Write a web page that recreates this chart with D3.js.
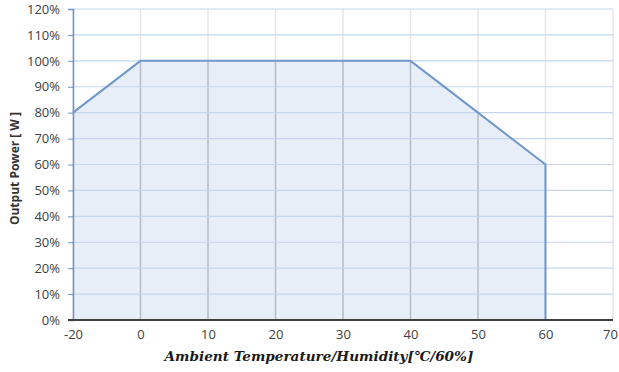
<!DOCTYPE html>
<html>
<head>
<meta charset="utf-8">
<script src="https://cdn.jsdelivr.net/npm/d3@7"></script>
<style>
  body { margin: 0; background: #fff; }
  svg { display: block; }
</style>
</head>
<body>
<svg id="chart"></svg>
<script>
// categories on the x axis (Excel category axis, so -20 -> 0 is one step)
let categories = [-20, 0, 10, 20, 30, 40, 50, 60, 70];
// derating curve, percent of output power
let curveTemps = [-20, 0, 10, 20, 30, 40, 50, 60];
let curvePower = [80, 100, 100, 100, 100, 100, 80, 60];
let yTicks = [0, 10, 20, 30, 40, 50, 60, 70, 80, 90, 100, 110, 120];

let w = 619, h = 372;
let margin = {left: 73, right: 6, top: 9, bottom: 52};

let svg = d3.select("#chart").attr("width", w).attr("height", h);

let x = d3.scalePoint()
    .domain(categories)
    .range([margin.left, w - margin.right]);

let y = d3.scaleLinear()
    .domain([0, 120])
    .range([h - margin.bottom, margin.top]);

let points = curveTemps.map((t, i) => ({t: t, p: curvePower[i]}));
let lastT = curveTemps[curveTemps.length - 1];

// light vertical grid
svg.append("g")
    .selectAll("line")
    .data(categories)
    .enter()
    .append("line")
    .attr("x1", d => x(d)).attr("x2", d => x(d))
    .attr("y1", y(120)).attr("y2", y(0))
    .attr("stroke", "#e6e6e6")
    .attr("stroke-width", 1.5);

// area under curve
let area = d3.area()
    .x(d => x(d.t))
    .y0(y(0))
    .y1(d => y(d.p));

svg.append("clipPath").attr("id", "areaClip")
    .append("path").attr("d", area(points));

svg.append("path")
    .attr("d", area(points))
    .attr("fill", "#e8eef7");

// darker vertical grid inside the filled area
svg.append("g")
    .attr("clip-path", "url(#areaClip)")
    .selectAll("line")
    .data(categories)
    .enter()
    .append("line")
    .attr("x1", d => x(d)).attr("x2", d => x(d))
    .attr("y1", y(120)).attr("y2", y(0))
    .attr("stroke", "#b4bcc6")
    .attr("stroke-width", 1.5);

// horizontal grid
svg.append("g")
    .selectAll("line")
    .data(yTicks)
    .enter()
    .append("line")
    .attr("x1", margin.left).attr("x2", w - margin.right)
    .attr("y1", d => y(d)).attr("y2", d => y(d))
    .attr("stroke", "#c6d5ec")
    .attr("stroke-width", 1.2);

// curve line with drop at the end
let line = d3.line()
    .x(d => x(d.t))
    .y(d => y(d.p));

svg.append("path")
    .attr("d", line(points.concat([{t: lastT, p: 0}])))
    .attr("fill", "none")
    .attr("stroke", "#7098cc")
    .attr("stroke-width", 2);

// y axis
let yAxis = svg.append("g")
    .attr("transform", `translate(${margin.left},0)`)
    .call(d3.axisLeft(y).tickValues(yTicks).tickFormat(d => d + "%").tickSize(5).tickPadding(8));
yAxis.select(".domain").attr("stroke", "#6f93c6").attr("stroke-width", 1.5);
yAxis.selectAll(".tick line").attr("stroke", "#6f93c6");
yAxis.selectAll("text")
    .attr("fill", "#404040")
    .style("font-family", "'Open Sans', sans-serif")
    .style("font-size", "13px");

// x axis
let xAxis = svg.append("g")
    .attr("transform", `translate(0,${y(0)})`)
    .call(d3.axisBottom(x).tickSize(0).tickPadding(10));
xAxis.select(".domain").attr("stroke", "#404040").attr("stroke-width", 2)
    .attr("d", `M${margin.left - 5},0H${w - margin.right}`);
xAxis.selectAll("text")
    .attr("fill", "#404040")
    .style("font-family", "'Open Sans', sans-serif")
    .style("font-size", "13px");
// keep the last label inside the window
xAxis.selectAll(".tick").filter(d => d === 70).select("text").attr("dx", -3);

// axis titles
svg.append("text")
    .attr("transform", `translate(19,${(y(0) + y(120)) / 2 + 4}) rotate(-90)`)
    .attr("text-anchor", "middle")
    .attr("fill", "#333")
    .style("font-family", "'Open Sans', sans-serif")
    .style("font-weight", "bold")
    .style("font-size", "12px")
    .text("Output Power [ W ]");

svg.append("text")
    .attr("x", 319)
    .attr("y", 361)
    .attr("text-anchor", "middle")
    .attr("fill", "#1a1a1a")
    .style("font-family", "'DejaVu Serif', serif")
    .style("font-weight", "bold")
    .style("font-style", "italic")
    .style("font-size", "13.6px")
    .text("Ambient Temperature/Humidity[℃/60%]");
</script>
</body>
</html>
